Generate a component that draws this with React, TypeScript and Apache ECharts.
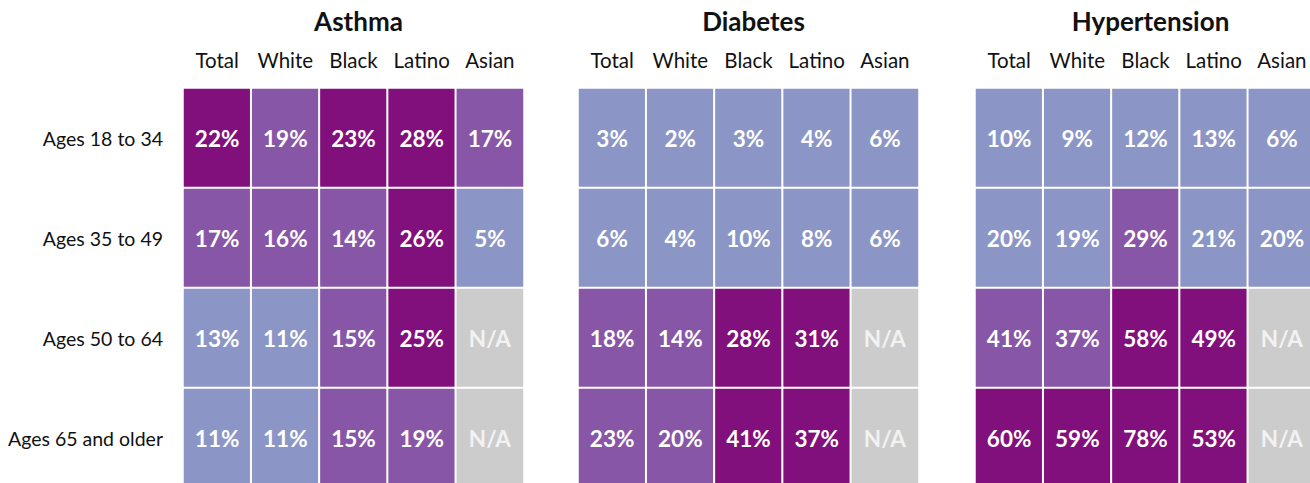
import React, { useEffect, useRef } from "react";
import * as echarts from "echarts";

const groups = ["Total", "White", "Black", "Latino", "Asian"];
const ageGroups = ["Ages 18 to 34", "Ages 35 to 49", "Ages 50 to 64", "Ages 65 and older"];
const conditions = ["Asthma", "Diabetes", "Hypertension"];

// rows = age groups, columns = groups; null = N/A
const asthma: (number | null)[][] = [
  [22, 19, 23, 28, 17],
  [17, 16, 14, 26, 5],
  [13, 11, 15, 25, null],
  [11, 11, 15, 19, null],
];
const diabetes: (number | null)[][] = [
  [3, 2, 3, 4, 6],
  [6, 4, 10, 8, 6],
  [18, 14, 28, 31, null],
  [23, 20, 41, 37, null],
];
const hypertension: (number | null)[][] = [
  [10, 9, 12, 13, 6],
  [20, 19, 29, 21, 20],
  [41, 37, 58, 49, null],
  [60, 59, 78, 53, null],
];
// colour break points (low/mid, mid/high) per condition
const breaks: [number, number][] = [
  [14, 21],
  [12, 26],
  [25, 45],
];

const LIGHT = "#8c96c6";
const MID = "#8856a7";
const DARK = "#810f7c";
const NA = "#cccccc";
const FONT = "'Source Sans Pro', Lato, 'Noto Sans', sans-serif";

export default function App() {
  const ref = useRef<HTMLDivElement>(null);
  useEffect(() => {
    document.body.style.margin = "0";
    if (!ref.current) return;
    const chart = echarts.init(ref.current, null, { renderer: "svg" });
    const tables = [asthma, diabetes, hypertension];
    const lefts = [183, 578, 975];
    const cellW = 341;
    const grids = lefts.map((l) => ({ left: l, top: 88, width: cellW, height: 400 }));
    const xAxes = lefts.map((_, i) => ({
      type: "category",
      gridIndex: i,
      position: "top",
      data: groups,
      axisLine: { show: false },
      axisTick: { show: false },
      splitLine: { show: false },
      axisLabel: { interval: 0, fontFamily: FONT, fontSize: 20.5, color: "#111", margin: 18 },
    }));
    const yAxes = lefts.map((_, i) => ({
      type: "category",
      gridIndex: i,
      inverse: true,
      data: ageGroups,
      axisLine: { show: false },
      axisTick: { show: false },
      splitLine: { show: false },
      axisLabel: {
        show: i === 0,
        interval: 0,
        fontFamily: FONT,
        fontSize: 19.5,
        color: "#111",
        margin: 20,
      },
    }));
    const series = tables.map((t, i) => {
      const data: any[] = [];
      t.forEach((row, r) =>
        row.forEach((v, c) => {
          if (v === null) {
            data.push({ value: [c, r, -1], label: { color: "#f2f2f2" } });
          } else {
            data.push({ value: [c, r, v] });
          }
        })
      );
      return {
        type: "heatmap",
        xAxisIndex: i,
        yAxisIndex: i,
        data,
        itemStyle: { borderColor: "#ffffff", borderWidth: 2 },
        label: {
          show: true,
          fontFamily: FONT,
          fontSize: 22.5,
          fontWeight: "bold",
          color: "#ffffff",
          formatter: (p: any) => (p.value[2] < 0 ? "N/A" : p.value[2] + "%"),
        },
        emphasis: { disabled: true },
      };
    });
    const visualMaps = breaks.map((b, i) => ({
      type: "piecewise",
      show: false,
      seriesIndex: i,
      dimension: 2,
      pieces: [
        { lt: 0, color: NA },
        { gte: 0, lt: b[0], color: LIGHT },
        { gte: b[0], lt: b[1], color: MID },
        { gte: b[1], color: DARK },
      ],
    }));
    const titles = conditions.map((c, i) => ({
      text: c,
      left: lefts[i] + cellW / 2,
      top: 3,
      textAlign: "center",
      textStyle: { fontFamily: FONT, fontSize: 26, fontWeight: "bold", color: "#111" },
    }));
    chart.setOption({
      animation: false,
      backgroundColor: "#ffffff",
      title: titles,
      grid: grids,
      xAxis: xAxes,
      yAxis: yAxes,
      visualMap: visualMaps,
      series,
    });
    return () => chart.dispose();
  }, []);
  return (
    <div style={{ width: 1310, height: 483, overflow: "hidden" }}>
      <div ref={ref} style={{ width: 1340, height: 520 }} />
    </div>
  );
}
